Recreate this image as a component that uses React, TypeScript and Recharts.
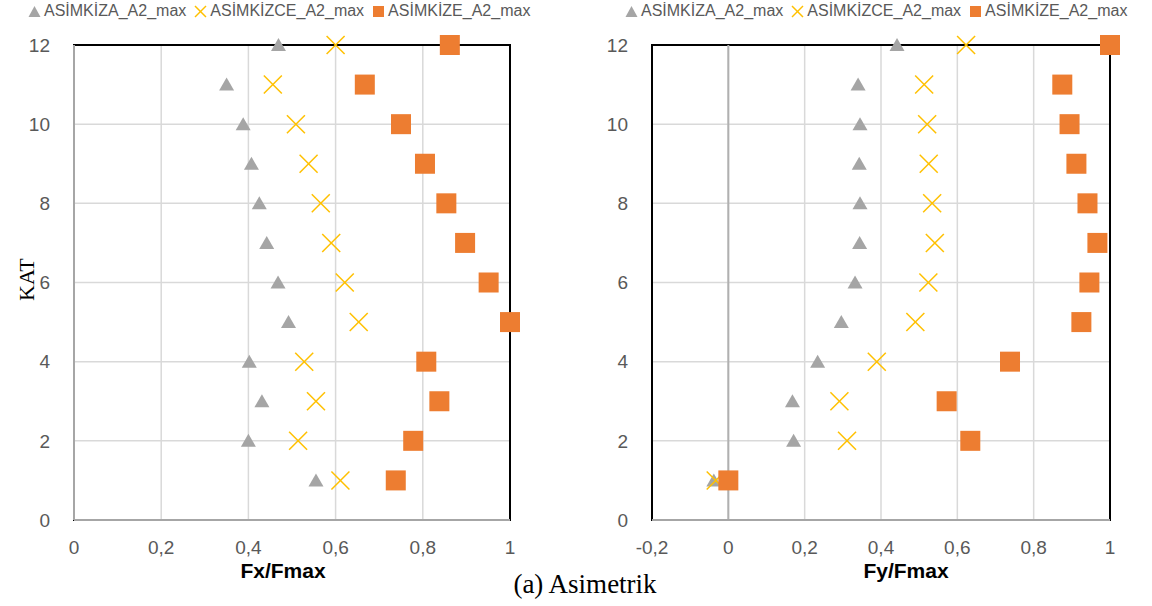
import React from 'react';
import { ScatterChart, Scatter, XAxis, YAxis, CartesianGrid, ReferenceArea, ReferenceLine } from 'recharts';

// floor numbers (KAT) 1..12
const katList = [1, 2, 3, 4, 5, 6, 7, 8, 9, 10, 11, 12];

// Fx/Fmax
const fxKizA = [0.555, 0.4, 0.431, 0.402, 0.492, 0.468, 0.442, 0.425, 0.407, 0.388, 0.35, 0.469];
const fxKizCE = [0.611, 0.514, 0.555, 0.528, 0.653, 0.621, 0.59, 0.566, 0.538, 0.509, 0.456, 0.6];
const fxKizE = [0.738, 0.778, 0.838, 0.808, 1.0, 0.951, 0.897, 0.854, 0.805, 0.75, 0.667, 0.862];

// Fy/Fmax
const fyKizA = [-0.038, 0.171, 0.168, 0.234, 0.296, 0.332, 0.344, 0.345, 0.343, 0.345, 0.34, 0.442];
const fyKizCE = [-0.033, 0.311, 0.291, 0.389, 0.49, 0.524, 0.541, 0.534, 0.525, 0.521, 0.513, 0.623];
const fyKizE = [0.0, 0.634, 0.572, 0.738, 0.925, 0.946, 0.967, 0.941, 0.912, 0.894, 0.875, 1.0];

const seriesNames = ['ASİMKİZA_A2_max', 'ASİMKİZCE_A2_max', 'ASİMKİZE_A2_max'];
const fxTicks = [0, 0.2, 0.4, 0.6, 0.8, 1];
const fyTicks = [-0.2, 0, 0.2, 0.4, 0.6, 0.8, 1];
const katTicks = [0, 2, 4, 6, 8, 10, 12];

const GRAY = '#a5a5a5';
const YELLOW = '#ffc000';
const ORANGE = '#ed7d31';
const SANS = '"Liberation Sans", Arial, sans-serif';
const SERIF = '"Liberation Serif", "Times New Roman", serif';

const toPoints = (vals: number[]) => vals.map((v, i) => ({ x: v, y: katList[i] }));

const Triangle = (p: any) => (
  <polygon points={`${p.cx},${p.cy - 7} ${p.cx + 7.5},${p.cy + 6} ${p.cx - 7.5},${p.cy + 6}`} fill={GRAY} />
);
const Cross = (p: any) => (
  <g stroke={YELLOW} strokeWidth={1.5}>
    <line x1={p.cx - 9} y1={p.cy - 9} x2={p.cx + 9} y2={p.cy + 9} />
    <line x1={p.cx - 9} y1={p.cy + 9} x2={p.cx + 9} y2={p.cy - 9} />
  </g>
);
const Square = (p: any) => <rect x={p.cx - 10} y={p.cy - 10} width={20} height={20} fill={ORANGE} />;

const fmt = (v: number) => String(Math.round(v * 10) / 10).replace('.', ',');

const Legend = ({ left }: { left: number }) => (
  <div style={{ position: 'absolute', left, top: 2, display: 'flex', alignItems: 'center', fontFamily: SANS, fontSize: 16, color: '#595959', whiteSpace: 'nowrap' }}>
    <svg width={13} height={13} style={{ marginRight: 3 }}><polygon points="6.5,1 12.5,12 0.5,12" fill={GRAY} /></svg>
    <span style={{ marginRight: 8 }}>{seriesNames[0]}</span>
    <svg width={13} height={13} style={{ marginRight: 3 }}><g stroke={YELLOW} strokeWidth={1.5}><line x1={1} y1={1} x2={12} y2={12} /><line x1={1} y1={12} x2={12} y2={1} /></g></svg>
    <span style={{ marginRight: 8 }}>{seriesNames[1]}</span>
    <svg width={13} height={13} style={{ marginRight: 3 }}><rect x={1} y={1} width={11} height={11} fill={ORANGE} /></svg>
    <span>{seriesNames[2]}</span>
  </div>
);

interface PanelProps {
  a: number[];
  ce: number[];
  e: number[];
  ticks: number[];
  marginLeft: number;
  marginRight: number;
  zeroLine?: boolean;
}

const Panel: React.FC<PanelProps> = ({ a, ce, e, ticks, marginLeft, marginRight, zeroLine }) => {
  const dmin = ticks[0];
  const dmax = ticks[ticks.length - 1];
  return (
    <ScatterChart width={576} height={606} margin={{ top: 45, right: marginRight, bottom: 56, left: marginLeft }}>
      <CartesianGrid stroke="#d9d9d9" strokeWidth={1.5} />
      <XAxis
        type="number"
        dataKey="x"
        domain={[dmin, dmax]}
        ticks={ticks}
        tickFormatter={fmt}
        height={30}
        tickLine={false}
        axisLine={{ stroke: '#a6a6a6', strokeWidth: 2 }}
        tick={{ fill: '#595959', fontSize: 19, fontFamily: SANS }}
        tickMargin={15}
      />
      <YAxis
        type="number"
        dataKey="y"
        domain={[0, 12]}
        ticks={katTicks}
        width={44}
        tickLine={false}
        axisLine={zeroLine ? false : { stroke: '#a6a6a6', strokeWidth: 2 }}
        tick={{ fill: '#595959', fontSize: 19, fontFamily: SANS }}
        tickMargin={18}
      />
      <ReferenceArea x1={dmin} x2={dmax} y1={0} y2={12} fill="none" stroke="#000" strokeWidth={2} fillOpacity={0} />
      {zeroLine && <ReferenceLine x={0} stroke="#b0b0b0" strokeWidth={2} />}
      <ReferenceLine y={0} stroke="#a6a6a6" strokeWidth={2} />
      <Scatter data={toPoints(a)} shape={Triangle} isAnimationActive={false} />
      <Scatter data={toPoints(ce)} shape={Cross} isAnimationActive={false} />
      <Scatter data={toPoints(e)} shape={Square} isAnimationActive={false} />
    </ScatterChart>
  );
};

export default function App() {
  return (
    <div style={{ position: 'absolute', left: 0, top: 0, width: 1152, height: 606, background: '#fff', overflow: 'hidden' }}>
      <div style={{ position: 'absolute', left: 0, top: 0 }}>
        <Panel a={fxKizA} ce={fxKizCE} e={fxKizE} ticks={fxTicks} marginLeft={30} marginRight={66} />
      </div>
      <div style={{ position: 'absolute', left: 576, top: 0 }}>
        <Panel a={fyKizA} ce={fyKizCE} e={fyKizE} ticks={fyTicks} marginLeft={32} marginRight={42} zeroLine />
      </div>
      <Legend left={28} />
      <Legend left={625} />
      <div style={{ position: 'absolute', left: 7, top: 268, width: 40, textAlign: 'center', transform: 'rotate(-90deg)', fontFamily: SERIF, fontSize: 22, color: '#000' }}>KAT</div>
      <div style={{ position: 'absolute', left: 183, top: 559, width: 200, textAlign: 'center', fontFamily: SANS, fontWeight: 'bold', fontSize: 21, color: '#000' }}>Fx/Fmax</div>
      <div style={{ position: 'absolute', left: 806, top: 559, width: 200, textAlign: 'center', fontFamily: SANS, fontWeight: 'bold', fontSize: 21, color: '#000' }}>Fy/Fmax</div>
      <div style={{ position: 'absolute', left: 435, top: 569, width: 300, textAlign: 'center', fontFamily: SERIF, fontSize: 27, color: '#000' }}>(a) Asimetrik</div>
    </div>
  );
}
